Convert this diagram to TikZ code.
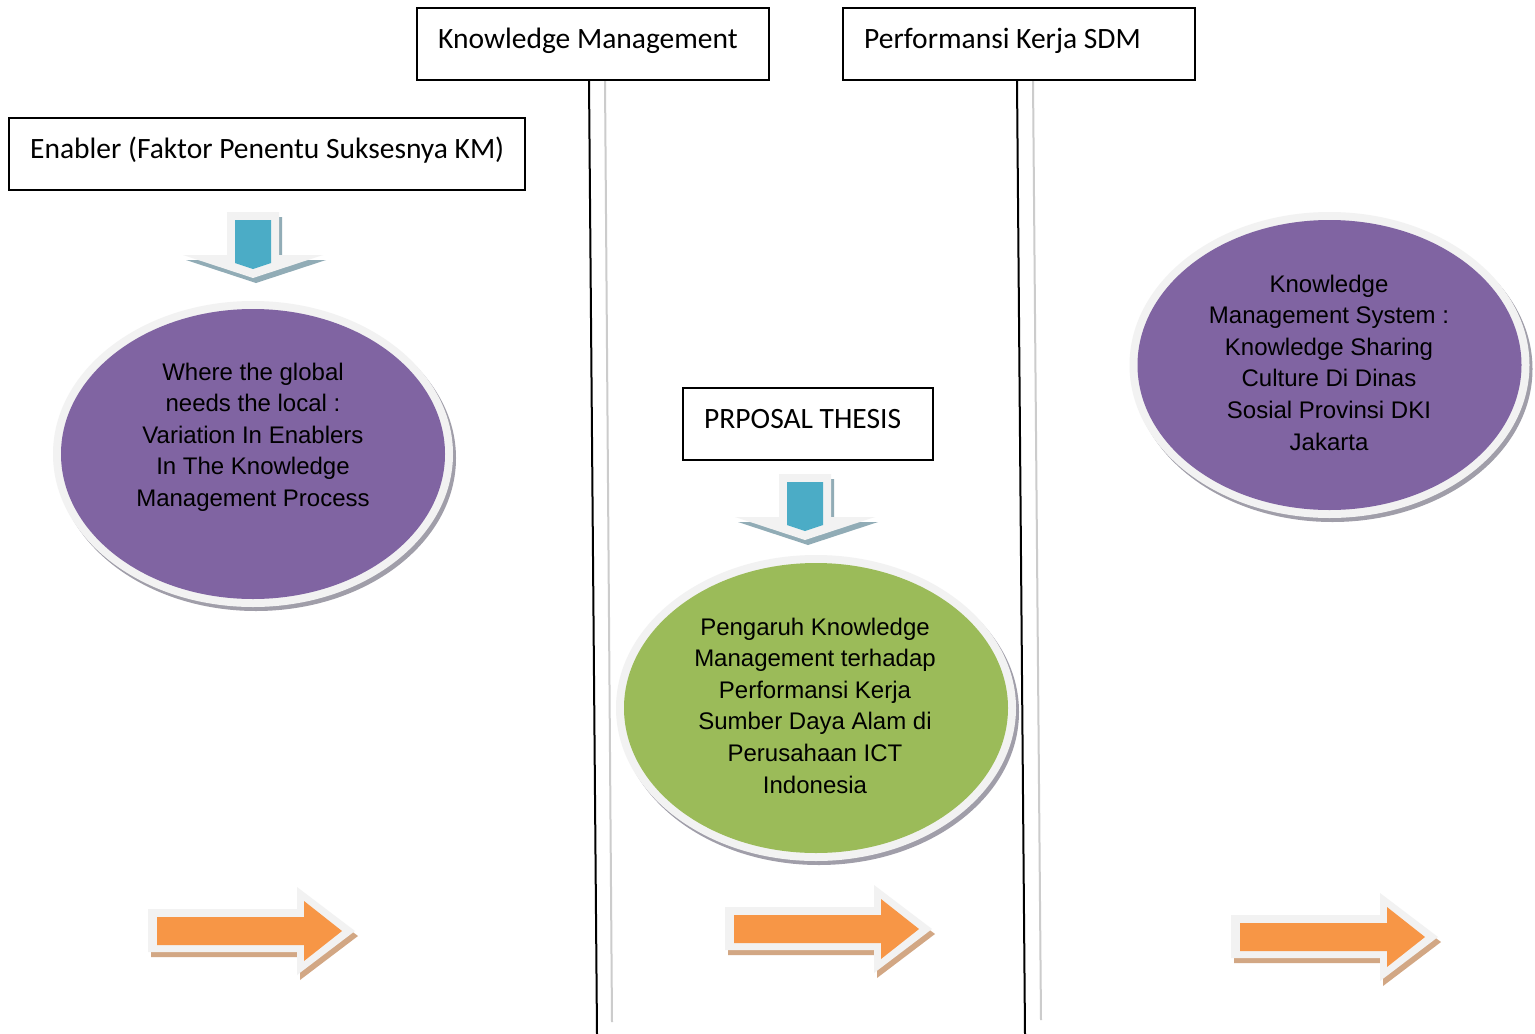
\documentclass[tikz,border=0pt]{standalone}
\usepackage{fontspec}
\setmainfont{Carlito}
\newfontfamily\ellfont{Liberation Sans}
\usetikzlibrary{shapes.geometric,calc}

\definecolor{kmpurple}{HTML}{8064A2}
\definecolor{kmgreen}{HTML}{9BBB59}
\definecolor{kmblue}{HTML}{4BACC6}
\definecolor{kmorange}{HTML}{F79646}
\definecolor{ringgray}{HTML}{F2F2F2}
\definecolor{ringshadow}{HTML}{A09EA9}
\definecolor{blueshadow}{HTML}{91ACB6}
\definecolor{orangeshadow}{HTML}{D2A784}
\definecolor{guidegray}{HTML}{CCCCCC}

\tikzset{
  titlebox/.style={draw=black, line width=1.6pt, fill=white, inner sep=0pt,
    outer sep=0pt, minimum height=72pt, anchor=north west},
  boxlabel/.style={anchor=base west, inner sep=0pt,
    font=\fontsize{29.5}{35}\selectfont},
  ellshadow/.style={ellipse, fill=ringshadow, inner sep=0pt, outer sep=0pt,
    minimum width=400pt, minimum height=306pt},
  ellring/.style={ellipse, fill=ringgray, inner sep=0pt, outer sep=0pt,
    minimum width=400pt, minimum height=306pt},
  ellcore/.style={ellipse, fill=#1, inner sep=0pt, outer sep=0pt,
    minimum width=384pt, minimum height=290pt},
  elltext/.style={align=center, inner sep=0pt,
    font=\ellfont\fontsize{24}{31.6}\selectfont},
  guideline/.style={draw=black, line width=2pt},
  guidelight/.style={draw=guidegray, line width=2pt},
  downarr/.pic={
    \fill[blueshadow, shift={(3,5)}] (-26,0) -- (26,0) -- (26,43) -- (70,43)
      -- (0,66) -- (-70,43) -- (-26,43) -- cycle;
    \fill[ringgray] (-26,0) -- (26,0) -- (26,43) -- (70,43)
      -- (0,66) -- (-70,43) -- (-26,43) -- cycle;
    \fill[kmblue] (-18,8) -- (18,8) -- (18,51) -- (0,57) -- (-18,51) -- cycle;
  },
  rightarr/.pic={
    \fill[orangeshadow, shift={(3,5)}] (0,0) -- (149,0) -- (149,-22)
      -- (207,22) -- (149,66) -- (149,43) -- (0,43) -- cycle;
    \fill[ringgray] (0,0) -- (149,0) -- (149,-22)
      -- (207,22) -- (149,66) -- (149,43) -- (0,43) -- cycle;
    \fill[kmorange] (9,8) -- (156,8) -- (156,-8) -- (194,22)
      -- (156,52) -- (156,36) -- (9,36) -- cycle;
  }
}

\begin{document}
\begin{tikzpicture}[x=1pt, y=-1pt]
  \fill[white] (0,0) rectangle (1535,1034);
  \useasboundingbox (0,0) rectangle (1535,1034);

  % column divider lines
  \coordinate (d1top) at (589,80);   \coordinate (d1bot) at (597,1034);
  \coordinate (d1ltop) at (605,80);  \coordinate (d1lbot) at (612,1022);
  \coordinate (d2top) at (1017,80);  \coordinate (d2bot) at (1025,1034);
  \coordinate (d2ltop) at (1033,80); \coordinate (d2lbot) at (1041,1020);
  \draw[guidelight] (d1ltop) -- (d1lbot);
  \draw[guideline] (d1top) -- (d1bot);
  \draw[guidelight] (d2ltop) -- (d2lbot);
  \draw[guideline] (d2top) -- (d2bot);

  % heading boxes
  \node[titlebox, minimum width=352pt] (km) at (417,8) {};
  \node[boxlabel] (kmlabel) at ($(km.north west)+(21,40)$) {Knowledge Management};
  \node[titlebox, minimum width=352pt] (perf) at (843,8) {};
  \node[boxlabel] (perflabel) at ($(perf.north west)+(21,40)$) {Performansi Kerja SDM};
  \node[titlebox, minimum width=516pt] (enab) at (9,118) {};
  \node[boxlabel] (enablabel) at ($(enab.north west)+(21,40)$) {Enabler (Faktor Penentu Suksesnya KM)};
  \node[titlebox, minimum width=250pt] (prop) at (683,388) {};
  \node[boxlabel] (proplabel) at ($(prop.north west)+(21,40)$) {PRPOSAL THESIS};

  % down arrows
  \pic (down1) at (253,212) {downarr};
  \pic (down2) at (805,474) {downarr};

  % ellipses
  \coordinate (c1) at (253,454);
  \coordinate (c2) at (816,708);
  \coordinate (c3) at (1329.5,365);
  \node[ellshadow] (e1s) at ($(c1)+(3,4)$) {};
  \node[ellring] (e1r) at (c1) {};
  \node[ellcore=kmpurple] (e1) at (c1) {};
  \node[elltext] (t1) at (253,437) {Where the global\\needs the local :\\Variation In Enablers\\In The Knowledge\\Management Process};

  \node[ellshadow] (e2s) at ($(c2)+(3,4)$) {};
  \node[ellring] (e2r) at (c2) {};
  \node[ellcore=kmgreen] (e2) at (c2) {};
  \node[elltext] (t2) at (815,705.5) {Pengaruh Knowledge\\Management terhadap\\Performansi Kerja\\Sumber Daya Alam di\\Perusahaan ICT\\Indonesia};

  \node[ellshadow] (e3s) at ($(c3)+(3,4)$) {};
  \node[ellring] (e3r) at (c3) {};
  \node[ellcore=kmpurple] (e3) at (c3) {};
  \node[elltext] (t3) at (1329,362.5) {Knowledge\\Management System :\\Knowledge Sharing\\Culture Di Dinas\\Sosial Provinsi DKI\\Jakarta};

  % right arrows
  \pic (right1) at (148,909) {rightarr};
  \pic (right2) at (725,907) {rightarr};
  \pic (right3) at (1231,915) {rightarr};
\end{tikzpicture}
\end{document}
